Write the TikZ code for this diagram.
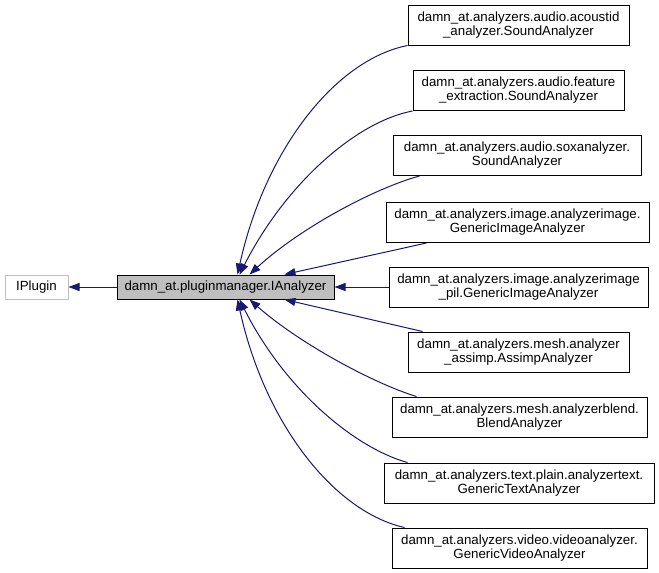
\documentclass[tikz,border=0pt]{standalone}
\usepackage{fontspec}
\setmainfont{Liberation Sans}
\usetikzlibrary{arrows.meta}
\definecolor{edgeblue}{HTML}{191970}
\definecolor{graybox}{HTML}{BFBFBF}
\tikzset{
  box/.style={draw=black, line width=1pt, fill=white, rectangle, inner sep=0pt, align=center,
    font=\fontsize{13.3}{14}\selectfont, minimum height=40pt},
  onebox/.style={box, minimum height=24pt},
  edge/.style={draw=edgeblue, line width=1pt, -{Triangle[length=11pt,width=8pt]}},
}
\begin{document}
\begin{tikzpicture}[x=1pt,y=-1pt]
\useasboundingbox[fill=white] (0,0) rectangle (659,573);
\node[onebox, draw=graybox, minimum width=63pt] (ip) at (36.5,287) {IPlugin};
\node[onebox, fill=graybox, minimum width=217pt] (ia) at (225.5,287) {damn\_at.pluginmanager.IAnalyzer};
\node[box, minimum width=221pt] (r1) at (518.5,25) {damn\_at.analyzers.audio.acoustid\\\_analyzer.SoundAnalyzer};
\node[box, minimum width=211pt] (r2) at (518.5,90.5) {damn\_at.analyzers.audio.feature\\\_extraction.SoundAnalyzer};
\node[box, minimum width=248pt] (r3) at (517,155.5) {damn\_at.analyzers.audio.soxanalyzer.\\SoundAnalyzer};
\node[box, minimum width=263pt] (r4) at (517.5,222.5) {damn\_at.analyzers.image.analyzerimage.\\GenericImageAnalyzer};
\node[box, minimum width=259pt] (r5) at (518.5,287) {damn\_at.analyzers.image.analyzerimage\\\_pil.GenericImageAnalyzer};
\node[box, minimum width=221pt] (r6) at (518.5,352) {damn\_at.analyzers.mesh.analyzer\\\_assimp.AssimpAnalyzer};
\node[box, minimum width=255pt] (r7) at (519.5,417) {damn\_at.analyzers.mesh.analyzerblend.\\BlendAnalyzer};
\node[box, minimum width=270pt] (r8) at (519,483) {damn\_at.analyzers.text.plain.analyzertext.\\GenericTextAnalyzer};
\node[box, minimum width=255pt] (r9) at (519.5,548) {damn\_at.analyzers.video.videoanalyzer.\\GenericVideoAnalyzer};

\draw[edge] (ia.west) -- (ip.east);
\draw[edge] (r1.south west) .. controls (335,60) and (265,150) .. ([xshift=121pt]ia.north west);
\draw[edge] (r2.south west) .. controls (355,122) and (285,185) .. ([xshift=123pt]ia.north west);
\draw[edge] ([xshift=27pt]r3.south west) .. controls (375,188) and (300,228) .. ([xshift=133pt]ia.north west);
\draw[edge] ([xshift=41pt]r4.south west) -- ([xshift=168pt]ia.north west);
\draw[edge] (r5.west) -- (ia.east);
\draw[edge] ([xshift=15pt]r6.north west) -- ([xshift=168pt]ia.south west);
\draw[edge] ([xshift=25pt]r7.north west) .. controls (375,384) and (300,344) .. ([xshift=133pt]ia.south west);
\draw[edge] ([xshift=24pt]r8.north west) .. controls (355,448) and (285,390) .. ([xshift=123pt]ia.south west);
\draw[edge] ([xshift=13pt]r9.north west) .. controls (335,512) and (265,425) .. ([xshift=121pt]ia.south west);
\end{tikzpicture}
\end{document}
